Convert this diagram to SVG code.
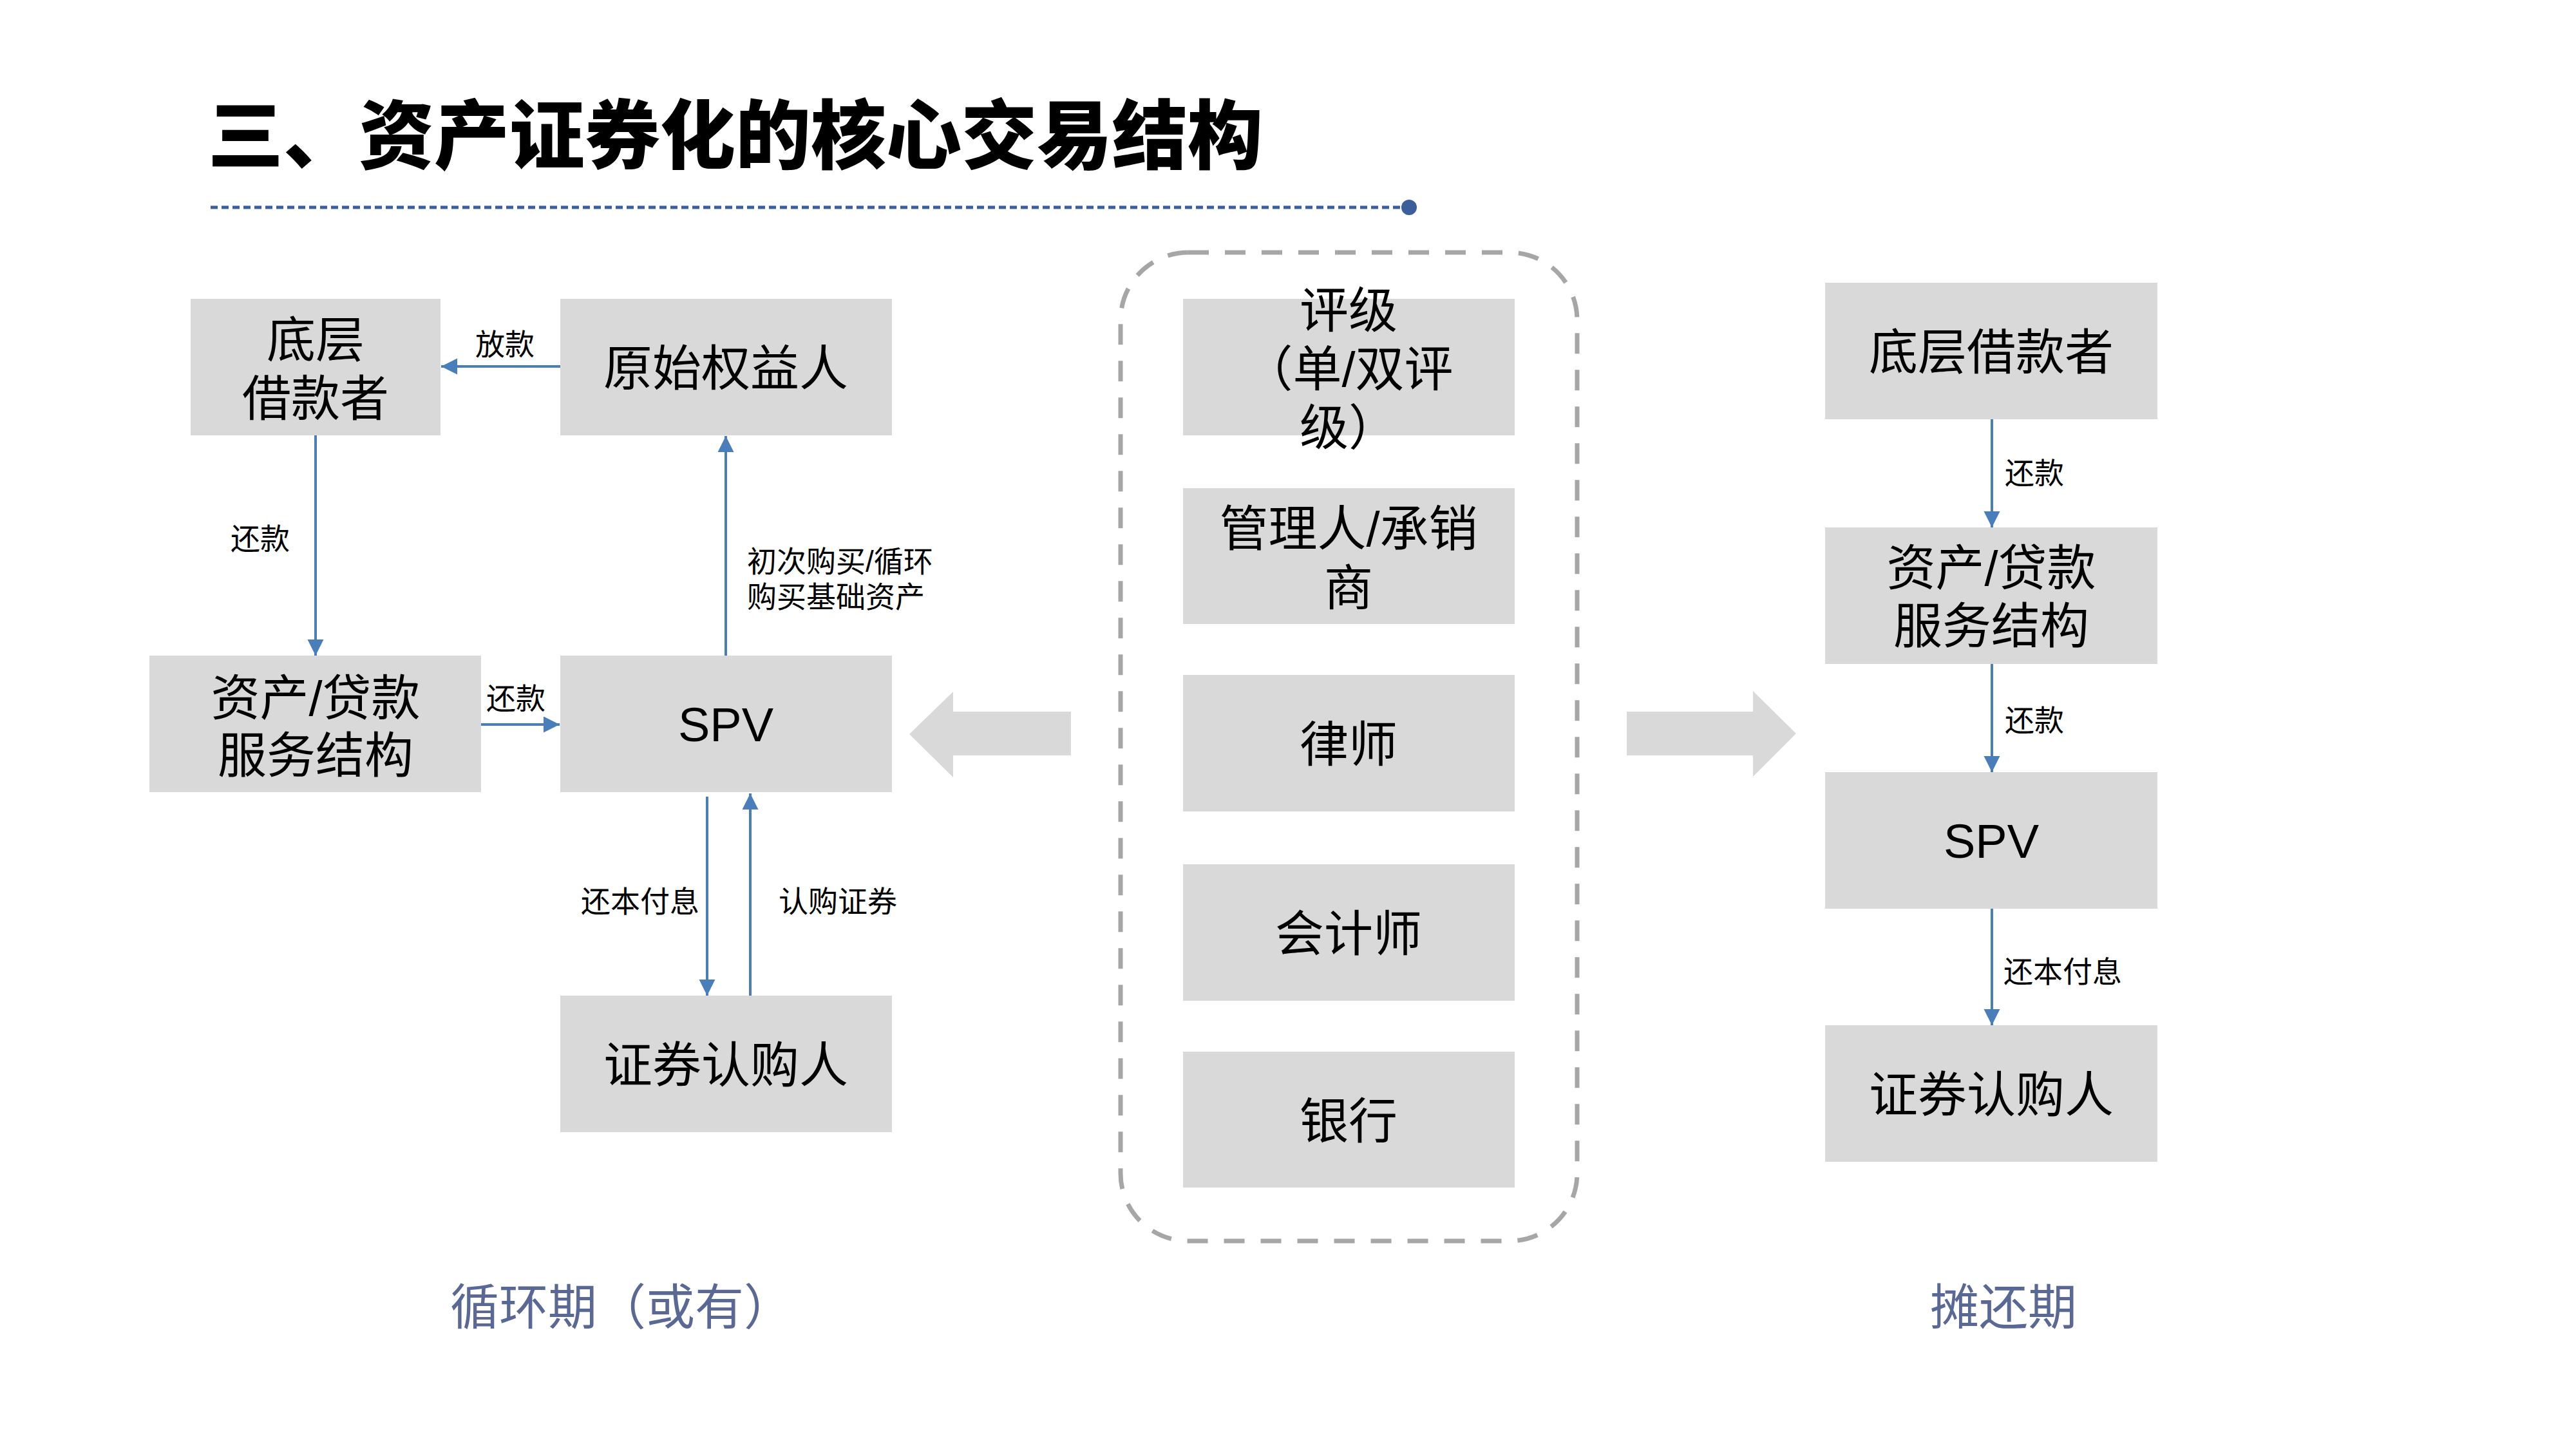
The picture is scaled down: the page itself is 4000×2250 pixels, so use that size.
<svg xmlns="http://www.w3.org/2000/svg" width="4000" height="2250" viewBox="0 0 4000 2250">
<defs>
<style>
.box{fill:#D9D9D9}
.t{font-family:"Liberation Sans","Noto Sans CJK SC",sans-serif;font-size:76px;fill:#000;text-anchor:middle}
.spv{font-family:"Liberation Sans","Noto Sans CJK SC",sans-serif;font-size:74px;fill:#000;text-anchor:middle}
.lb{font-family:"Liberation Sans","Noto Sans CJK SC",sans-serif;font-size:46px;fill:#000}
.ph{font-family:"Noto Sans CJK SC","Liberation Sans",sans-serif;font-size:76px;fill:#5A6896}
.c{stroke:#4A7EBB;stroke-width:4;fill:none;marker-end:url(#ah)}
.big{fill:#D9D9D9}
</style>
<marker id="ah" markerUnits="userSpaceOnUse" markerWidth="26" markerHeight="26" refX="25" refY="12.5" orient="auto">
<path d="M0,0 L25,12.5 L0,25 z" fill="#4A7EBB"/>
</marker>
</defs>
<rect width="4000" height="2250" fill="#FFFFFF"/>

<g id="title">
<text x="323" y="253" font-family="'Noto Sans CJK SC',sans-serif" font-size="117" font-weight="900" fill="#000">三、资产证券化的核心交易结构</text>
<line x1="327" y1="322" x2="2180" y2="322" stroke="#3A5F9A" stroke-width="5" stroke-dasharray="11 6"/>
<circle cx="2188" cy="322" r="12" fill="#3A5F9A"/>
</g>

<g id="connectors">
<line class="c" x1="870" y1="569" x2="685" y2="569"/>
<line class="c" x1="490" y1="676" x2="490" y2="1018"/>
<line class="c" x1="747" y1="1125" x2="869" y2="1125"/>
<line class="c" x1="1127" y1="1018" x2="1127" y2="677"/>
<line class="c" x1="1098" y1="1237" x2="1098" y2="1546"/>
<line class="c" x1="1165" y1="1546" x2="1165" y2="1232"/>
<line class="c" x1="3093" y1="651" x2="3093" y2="819"/>
<line class="c" x1="3093" y1="1031" x2="3093" y2="1199"/>
<line class="c" x1="3093" y1="1411" x2="3093" y2="1592"/>
</g>

<g id="connector-labels">
<text class="lb" x="738" y="551">放款</text>
<text class="lb" x="358" y="853">还款</text>
<text class="lb" x="755" y="1101">还款</text>
<text class="lb" font-size="48"><tspan x="1160" y="888">初次购买/循环</tspan><tspan x="1160" y="943">购买基础资产</tspan></text>
<text class="lb" x="902" y="1416">还本付息</text>
<text class="lb" x="1209" y="1416">认购证券</text>
<text class="lb" x="3113" y="751">还款</text>
<text class="lb" x="3113" y="1135">还款</text>
<text class="lb" x="3111" y="1525">还本付息</text>
</g>

<g id="big-arrows">
<polygon class="big" points="1663,1105 1480,1105 1480,1074 1412,1140 1480,1207 1480,1173 1663,1173"/>
<polygon class="big" points="2526,1105 2722,1105 2722,1073 2789,1139 2722,1206 2722,1173 2526,1173"/>
</g>

<g id="n-borrower-l">
<rect class="box" x="296" y="464" width="388" height="212"/>
<text class="t"><tspan x="490" y="555">底层</tspan><tspan x="490" y="646">借款者</tspan></text>
</g>
<g id="n-originator">
<rect class="box" x="870" y="464" width="515" height="212"/>
<text class="t" x="1127" y="599">原始权益人</text>
</g>
<g id="n-servicer-l">
<rect class="box" x="232" y="1018" width="515" height="212"/>
<text class="t"><tspan x="490" y="1111">资产/贷款</tspan><tspan x="490" y="1200">服务结构</tspan></text>
</g>
<g id="n-spv-l">
<rect class="box" x="870" y="1018" width="515" height="212"/>
<text class="spv" x="1127" y="1151">SPV</text>
</g>
<g id="n-investor-l">
<rect class="box" x="870" y="1546" width="515" height="212"/>
<text class="t" x="1127" y="1681">证券认购人</text>
</g>

<g id="n-service-group">
<rect x="1740" y="392" width="709" height="1535" rx="105" ry="105" fill="none" stroke="#A6A6A6" stroke-width="7" stroke-dasharray="32 25"/>
</g>
<g id="n-rating">
<rect class="box" x="1837" y="464" width="515" height="212"/>
<text class="t"><tspan x="2094" y="509">评级</tspan><tspan x="2094" y="600">（单/双评</tspan><tspan x="2094" y="691">级）</tspan></text>
</g>
<g id="n-manager">
<rect class="box" x="1837" y="758" width="515" height="211"/>
<text class="t"><tspan x="2094" y="848">管理人/承销</tspan><tspan x="2094" y="940">商</tspan></text>
</g>
<g id="n-lawyer">
<rect class="box" x="1837" y="1048" width="515" height="212"/>
<text class="t" x="2094" y="1183">律师</text>
</g>
<g id="n-accountant">
<rect class="box" x="1837" y="1342" width="515" height="212"/>
<text class="t" x="2094" y="1477">会计师</text>
</g>
<g id="n-bank">
<rect class="box" x="1837" y="1633" width="515" height="211"/>
<text class="t" x="2094" y="1768">银行</text>
</g>

<g id="n-borrower-r">
<rect class="box" x="2834" y="439" width="516" height="212"/>
<text class="t" x="3092" y="574">底层借款者</text>
</g>
<g id="n-servicer-r">
<rect class="box" x="2834" y="819" width="516" height="212"/>
<text class="t"><tspan x="3092" y="909">资产/贷款</tspan><tspan x="3092" y="999">服务结构</tspan></text>
</g>
<g id="n-spv-r">
<rect class="box" x="2834" y="1199" width="516" height="212"/>
<text class="spv" x="3092" y="1332">SPV</text>
</g>
<g id="n-investor-r">
<rect class="box" x="2834" y="1592" width="516" height="212"/>
<text class="t" x="3092" y="1727">证券认购人</text>
</g>

<g id="phase-labels">
<text class="ph" x="699" y="2057">循环期（或有）</text>
<text class="ph" x="2997" y="2057">摊还期</text>
</g>
</svg>
